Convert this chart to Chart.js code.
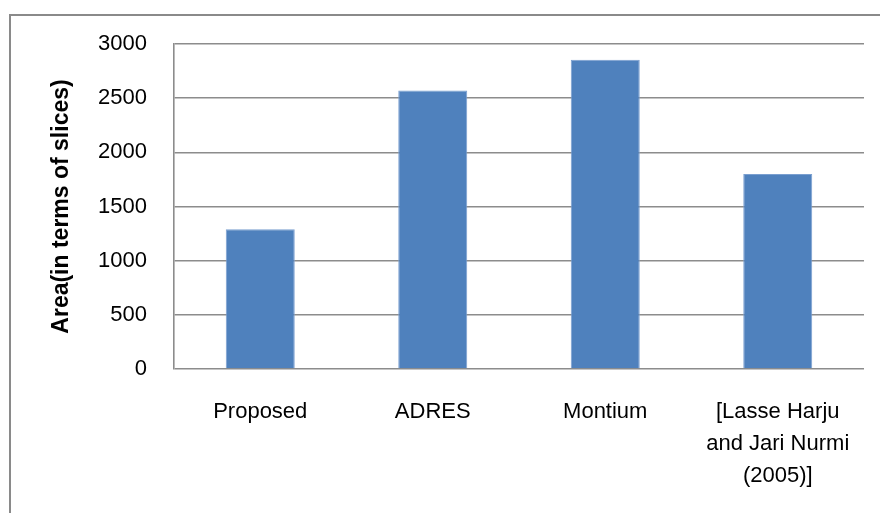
<!DOCTYPE html>
<html>
<head>
<meta charset="utf-8">
<script src="https://cdn.jsdelivr.net/npm/chart.js@4"></script>
<style>
  html, body { margin: 0; padding: 0; background: #fff; overflow: hidden; }
  #frame {
    position: absolute; left: 9px; top: 14px; width: 900px; height: 600px;
    border-left: 2px solid #8a8a8a; border-top: 2px solid #8a8a8a;
  }
  #wrap { position: absolute; left: 0; top: 0; width: 880px; height: 513px; }
</style>
</head>
<body>
<div id="frame"></div>
<div id="wrap"><canvas id="area"></canvas></div>
<script>
// values
var categories = ['Proposed', 'ADRES', 'Montium', ['[Lasse Harju', 'and Jari Nurmi', '(2005)]']];
var areaValues = [1290, 2570, 2855, 1800];
var yTicks = [0, 500, 1000, 1500, 2000, 2500, 3000];

document.addEventListener('DOMContentLoaded', function() {
  var ctx = document.getElementById('area').getContext('2d');

  var chart = new Chart(ctx, {
    type: 'bar',
    data: {
      labels: categories,
      datasets: [{
        data: areaValues,
        backgroundColor: '#4f81bd',
        borderColor: '#7a9fd0',
        borderWidth: 1,
        categoryPercentage: 1,
        barPercentage: 0.4
      }]
    },
    options: {
      responsive: true,
      maintainAspectRatio: false,
      animation: false,
      layout: { padding: { left: 48, right: 16, top: 44, bottom: 0 } },
      plugins: {
        legend: { display: false },
        tooltip: { enabled: false }
      },
      scales: {
        x: {
          grid: { display: false, drawTicks: false },
          border: { display: false },
          ticks: {
            color: '#000',
            padding: 27,
            maxRotation: 0,
            autoSkip: false,
            font: { family: '"Liberation Sans", Arial, sans-serif', size: 22, lineHeight: 1.45 }
          },
          afterFit: function(scale) { scale.height = 144; }
        },
        y: {
          min: 0,
          max: 3000,
          afterBuildTicks: function(scale) {
            scale.ticks = yTicks.map(function(v) { return { value: v }; });
          },
          grid: { color: '#8c8c8c', lineWidth: 1.6, drawTicks: false },
          border: { display: true, color: '#8c8c8c', width: 1.6 },
          ticks: {
            color: '#000',
            padding: 27,
            font: { family: '"Liberation Sans", Arial, sans-serif', size: 22 },
            callback: function(v) { return String(v); }
          },
          title: {
            display: true,
            text: 'Area(in terms of slices)',
            color: '#000',
            padding: { top: 0, bottom: 0 },
            font: { family: '"Liberation Sans", Arial, sans-serif', size: 23, weight: 'bold' }
          },
          afterFit: function(scale) { scale.width = 126; }
        }
      }
    }
  });
});
</script>
</body>
</html>
